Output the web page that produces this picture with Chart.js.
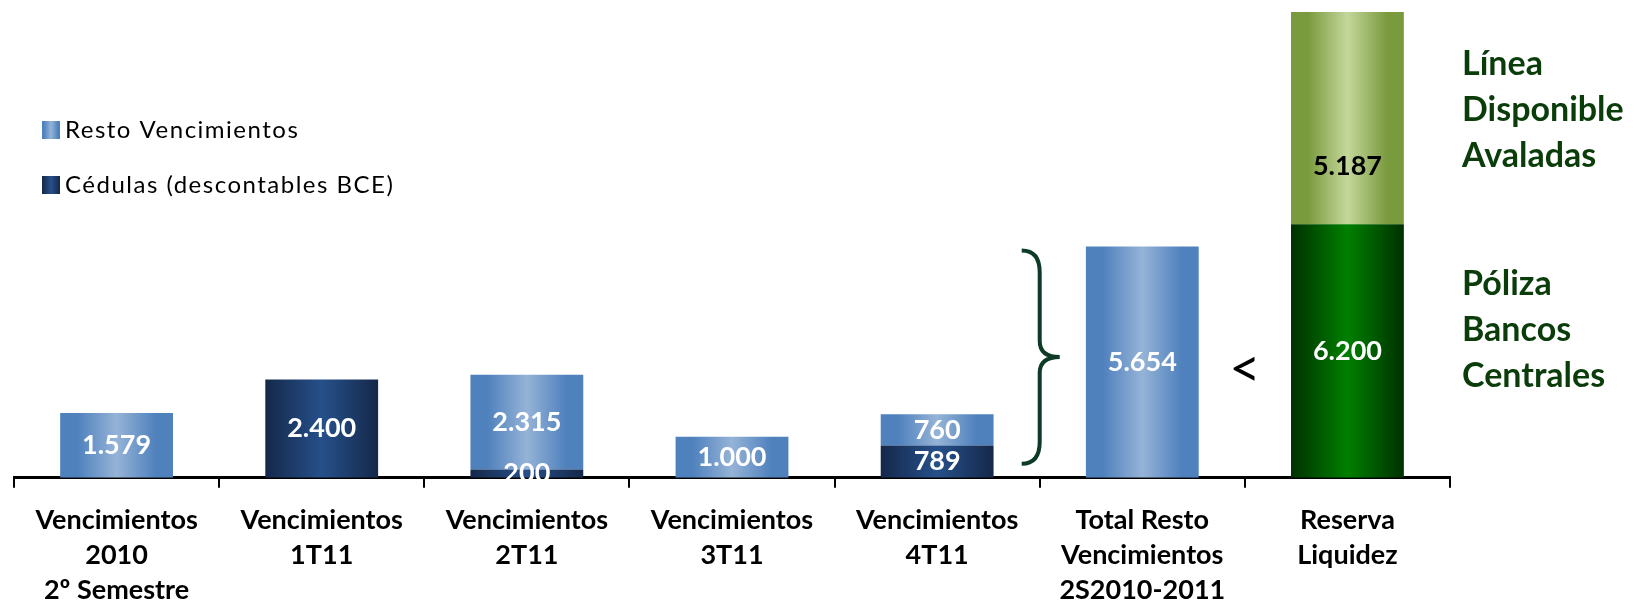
<!DOCTYPE html>
<html>
<head>
<meta charset="utf-8">
<script src="https://cdn.jsdelivr.net/npm/chart.js@4"></script>
<style>
  html, body { margin: 0; padding: 0; background: #fff; }
  #wrap { width: 1637px; height: 608px; overflow: hidden; }
</style>
</head>
<body>
<div id="wrap"><canvas id="myChart"></canvas></div>
<script>
const categories = [
  ['Vencimientos', '2010', '2º Semestre'],
  ['Vencimientos', '1T11'],
  ['Vencimientos', '2T11'],
  ['Vencimientos', '3T11'],
  ['Vencimientos', '4T11'],
  ['Total Resto', 'Vencimientos', '2S2010-2011'],
  ['Reserva', 'Liquidez']
];
const cedulas = [null, 2400, 200, null, 789, null, null];
const resto = [1579, null, 2315, 1000, 760, 5654, null];
const poliza = [null, null, null, null, null, null, 6200];
const linea = [null, null, null, null, null, null, 5187];

const BAR_PCT = 0.55;
const FONT = 'Lato, "Open Sans", sans-serif';

function fmt(v) {
  return String(v).replace(/\B(?=(\d{3})+(?!\d))/g, '.');
}

function makeGrad(ctx, x0, x1, edge, mid, flat) {
  const g = ctx.createLinearGradient(x0, 0, x1, 0);
  g.addColorStop(0, edge);
  if (flat) g.addColorStop(flat, edge);
  g.addColorStop(0.5, mid);
  if (flat) g.addColorStop(1 - flat, edge);
  g.addColorStop(1, edge);
  return g;
}

function barGradient(edge, mid, flat) {
  return function (c) {
    const chart = c.chart;
    const x = chart.scales.x;
    if (!chart.chartArea || !x) return mid;
    const center = x.getPixelForValue(c.dataIndex);
    const half = (x.width / categories.length) * BAR_PCT / 2;
    return makeGrad(chart.ctx, center - half, center + half, edge, mid, flat);
  };
}

const colors = {
  cedulas: ['#15284a', '#26508a', 0],
  resto: ['#4F81BD', '#95B3D7', 0.15],
  poliza: ['#003000', '#008000', 0],
  linea: ['#7A9A3E', '#C4D79B', 0.15]
};

// value labels inside the bars
const valueLabels = {
  id: 'valueLabels',
  afterDatasetsDraw(chart) {
    const ctx = chart.ctx;
    ctx.save();
    ctx.font = 'bold 27px ' + FONT;
    ctx.textAlign = 'center';
    ctx.textBaseline = 'middle';
    chart.data.datasets.forEach((ds, i) => {
      chart.getDatasetMeta(i).data.forEach((el, j) => {
        const v = ds.data[j];
        if (v == null) return;
        ctx.fillStyle = ds.labelColor || '#fff';
        const y = (el.y + el.base) / 2 + (ds.labelOffset || 0);
        ctx.fillText(fmt(v), el.x, y);
      });
    });
    ctx.restore();
  }
};

// legend, brace, "<" and side notes
const extras = {
  id: 'extras',
  afterDraw(chart) {
    const ctx = chart.ctx;
    const x = chart.scales.x, y = chart.scales.y;
    ctx.save();

    // legend
    const items = [
      ['Resto Vencimientos', colors.resto, 130],
      ['Cédulas (descontables BCE)', colors.cedulas, 185]
    ];
    ctx.font = '24px ' + FONT;
    ctx.textBaseline = 'middle';
    ctx.textAlign = 'left';
    items.forEach(([txt, c, yy]) => {
      ctx.fillStyle = makeGrad(ctx, 42, 60, c[0], c[1], c[2] ? 0.1 : 0);
      ctx.fillRect(42, yy - 9, 18, 18);
      ctx.fillStyle = '#000';
      if ('letterSpacing' in ctx) ctx.letterSpacing = '1.5px';
      ctx.fillText(txt, 65, yy);
      if ('letterSpacing' in ctx) ctx.letterSpacing = '0px';
    });

    // brace
    const bx = x.getPixelForValue(4.5);
    const top = y.getPixelForValue(resto[5]) + 4;
    const bot = y.getPixelForValue(0) - 14;
    const mid = (top + bot) / 2;
    ctx.strokeStyle = '#0d3b26';
    ctx.lineWidth = 4;
    ctx.beginPath();
    ctx.moveTo(bx - 18, top);
    ctx.quadraticCurveTo(bx, top, bx, top + 22);
    ctx.lineTo(bx, mid - 16);
    ctx.quadraticCurveTo(bx, mid, bx + 20, mid);
    ctx.quadraticCurveTo(bx, mid, bx, mid + 16);
    ctx.lineTo(bx, bot - 22);
    ctx.quadraticCurveTo(bx, bot, bx - 18, bot);
    ctx.stroke();

    // "<"
    ctx.fillStyle = '#000';
    ctx.font = '54px ' + FONT;
    ctx.textAlign = 'center';
    ctx.fillText('<', x.getPixelForValue(5.5), mid + 12);

    // side notes
    ctx.fillStyle = '#0b3d0b';
    ctx.font = 'bold 34px ' + FONT;
    ctx.textAlign = 'left';
    const tx = chart.chartArea.right + 12;
    const segL = (y.getPixelForValue(poliza[6]) + y.getPixelForValue(poliza[6] + linea[6])) / 2;
    const segP = (y.getPixelForValue(0) + y.getPixelForValue(poliza[6])) / 2;
    ['Línea', 'Disponible', 'Avaladas'].forEach((t, k) => ctx.fillText(t, tx, segL - 8 + (k - 1) * 46));
    ['Póliza', 'Bancos', 'Centrales'].forEach((t, k) => ctx.fillText(t, tx, segP - 21 + (k - 1) * 46));
    ctx.restore();
  }
};

new Chart(document.getElementById('myChart'), {
  type: 'bar',
  data: {
    labels: categories,
    datasets: [
      { label: 'Cédulas (descontables BCE)', data: cedulas, backgroundColor: barGradient(...colors.cedulas) },
      { label: 'Resto Vencimientos', data: resto, backgroundColor: barGradient(...colors.resto) },
      { label: 'Póliza Bancos Centrales', data: poliza, backgroundColor: barGradient(...colors.poliza) },
      { label: 'Línea Disponible Avaladas', data: linea, backgroundColor: barGradient(...colors.linea),
        labelColor: '#000', labelOffset: 48 }
    ]
  },
  options: {
    responsive: true,
    maintainAspectRatio: false,
    animation: false,
    barPercentage: BAR_PCT,
    categoryPercentage: 1,
    layout: { padding: { left: 14, right: 187, top: 12, bottom: -15 } },
    plugins: {
      legend: { display: false },
      tooltip: { enabled: false }
    },
    scales: {
      x: {
        stacked: true,
        grid: { drawOnChartArea: false, drawTicks: true, tickLength: 10, color: '#000', lineWidth: 2 },
        border: { display: true, color: '#000', width: 3 },
        ticks: {
          color: '#000',
          padding: 15,
          maxRotation: 0,
          autoSkip: false,
          font: { family: FONT, size: 27, weight: 'bold', lineHeight: 1.3 }
        }
      },
      y: {
        stacked: true,
        display: false,
        min: 0,
        max: 11387
      }
    }
  },
  plugins: [valueLabels, extras]
});
</script>
</body>
</html>
